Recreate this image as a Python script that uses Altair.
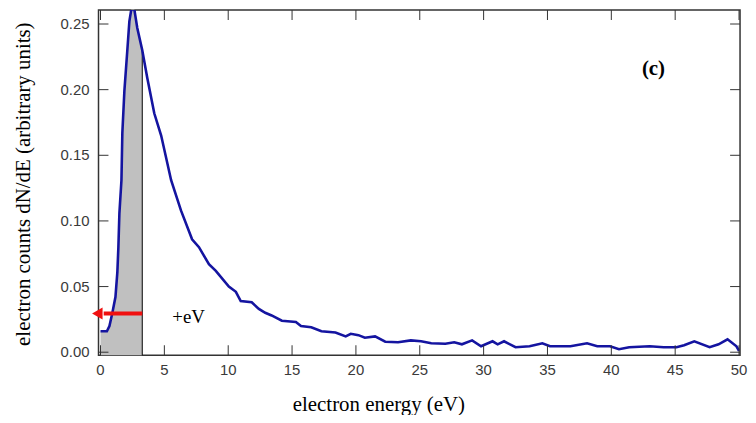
import altair as alt
import pandas as pd

# ---- data ----
energy = [0.0, 0.5, 0.7, 0.93, 1.17, 1.32, 1.40, 1.48, 1.64, 1.71, 1.87, 2.10, 2.26, 2.41,
          2.65, 2.88, 3.27, 3.66, 4.21, 4.75, 5.53, 6.3, 7.17, 7.71, 8.49, 9.03, 10.05,
          10.6, 10.98, 11.84, 12.4, 12.9, 13.4, 14.2, 15.3, 15.7, 16.5, 17.3, 18.4, 19.2,
          19.6, 20.2, 20.7, 21.5, 22.3, 23.3, 24.3, 25.1, 25.9, 27.0, 27.7, 28.3, 29.1,
          29.8, 30.7, 31.1, 31.6, 32.5, 33.6, 34.6, 35.2, 36.8, 38.1, 38.9, 39.9, 40.6,
          41.4, 43.0, 44.1, 45.1, 45.7, 46.5, 47.7, 48.4, 49.1, 49.8, 50.0]
counts = [0.016, 0.016, 0.020, 0.030, 0.042, 0.061, 0.080, 0.106, 0.131, 0.167, 0.199,
          0.230, 0.252, 0.261, 0.261, 0.247, 0.230, 0.209, 0.182, 0.165, 0.131, 0.108,
          0.086, 0.080, 0.067, 0.062, 0.050, 0.046, 0.039, 0.038, 0.033, 0.030, 0.028,
          0.024, 0.023, 0.020, 0.019, 0.016, 0.015, 0.012, 0.014, 0.013, 0.011, 0.012,
          0.008, 0.0076, 0.009, 0.0083, 0.0068, 0.0065, 0.0076, 0.006, 0.009, 0.0045,
          0.0083, 0.006, 0.0083, 0.0038, 0.0045, 0.0068, 0.0045, 0.0045, 0.0068, 0.0045,
          0.0045, 0.0023, 0.0038, 0.0045, 0.0038, 0.0038, 0.0053, 0.0083, 0.0038, 0.006,
          0.0098, 0.0045, 0.001]

cutoff_energy = [3.27]          # vertical line / shaded region edge
cutoff_count = [0.230]
arrow_energy = [3.27, 0.25]     # red arrow shaft
arrow_head_energy = [-0.25]
arrow_count = [0.0295]
x_ticks = [0, 5, 10, 15, 20, 25, 30, 35, 40, 45, 50]
y_ticks = [0.00, 0.05, 0.10, 0.15, 0.20, 0.25]
ev_label = ["+eV"]
ev_x = [6.9]
ev_y = [0.022]
panel_label = ["(c)"]
panel_x = [43.3]
panel_y = [0.211]
x_title = ["electron energy (eV)"]
y_title = ["electron counts dN/dE (arbitrary units)"]

X_DOM = [-0.156, 50.08]
Y_DOM = [-0.0023, 0.2606]

df = pd.DataFrame({"energy": energy, "counts": counts})
df_cut = pd.DataFrame({"energy": cutoff_energy, "counts": cutoff_count})
df_arrow = pd.DataFrame({"energy": arrow_energy, "counts": arrow_count * 2})
df_head = pd.DataFrame({"energy": arrow_head_energy, "counts": arrow_count})
df_ev = pd.DataFrame({"label": ev_label, "energy": ev_x, "counts": ev_y})
df_panel = pd.DataFrame({"label": panel_label, "energy": panel_x, "counts": panel_y})
df_xt = pd.DataFrame({"energy": x_ticks})
df_yt = pd.DataFrame({"counts": y_ticks})
df_xtitle = pd.DataFrame({"label": x_title})
df_ytitle = pd.DataFrame({"label": y_title})

xs = alt.Scale(domain=X_DOM, nice=False, zero=False)
ys = alt.Scale(domain=Y_DOM, nice=False, zero=False)

FONT_T = "Liberation Serif"
FONT_L = "Liberation Sans"


def X(field="energy:Q"):
    return alt.X(field, scale=xs, axis=None)


def Y(field="counts:Q"):
    return alt.Y(field, scale=ys, axis=None)


def XD(v):
    return alt.X(datum=v, scale=xs, axis=None)


def YD(v):
    return alt.Y(datum=v, scale=ys, axis=None)


area = alt.Chart(df).transform_filter(alt.datum.energy <= 3.27).mark_area(
    color="#c0c0c0", opacity=1
).encode(x=X(), y=Y(), y2=alt.Y2(datum=Y_DOM[0]))

vline = alt.Chart(df_cut).mark_rule(color="#000", strokeWidth=1).encode(
    x=X(), y=Y(), y2=alt.Y2(datum=Y_DOM[0]))

line = alt.Chart(df).mark_line(color="#1414a0", strokeWidth=2.6, clip=True).encode(
    x=X(), y=Y())

shaft = alt.Chart(df_arrow).mark_line(color="#f01010", strokeWidth=4).encode(x=X(), y=Y())

head = alt.Chart(df_head).mark_point(shape="triangle-left", filled=True, size=150,
                                     color="#f01010", opacity=1).encode(x=X(), y=Y())

txt_ev = alt.Chart(df_ev).mark_text(font=FONT_T, fontSize=19, align="center",
                                    baseline="alphabetic", color="#000").encode(
    x=X(), y=Y(), text="label:N")

txt_panel = alt.Chart(df_panel).mark_text(font=FONT_T, fontSize=21, fontWeight="bold",
                                          align="center", baseline="alphabetic",
                                          color="#000").encode(x=X(), y=Y(), text="label:N")

# inward ticks on all four sides
TICK = dict(color="#333", thickness=1, size=10, opacity=1)
ticks_bottom = alt.Chart(df_xt).mark_tick(orient="vertical", yOffset=-5, **TICK).encode(
    x=X(), y=YD(Y_DOM[0]))
ticks_top = alt.Chart(df_xt).mark_tick(orient="vertical", yOffset=5, **TICK).encode(
    x=X(), y=YD(Y_DOM[1]))
ticks_left = alt.Chart(df_yt).mark_tick(orient="horizontal", xOffset=5, **TICK).encode(
    y=Y(), x=XD(X_DOM[0]))
ticks_right = alt.Chart(df_yt).mark_tick(orient="horizontal", xOffset=-5, **TICK).encode(
    y=Y(), x=XD(X_DOM[1]))

# tick labels
xlabels = alt.Chart(df_xt).mark_text(font=FONT_L, fontSize=15, color="#3a3a3a",
                                     align="center", baseline="top", dy=8).encode(
    x=X(), y=YD(Y_DOM[0]), text=alt.Text("energy:Q", format="d"))
ylabels = alt.Chart(df_yt).mark_text(font=FONT_L, fontSize=15, color="#3a3a3a",
                                     align="right", baseline="middle", dx=-9).encode(
    y=Y(), x=XD(X_DOM[0]), text=alt.Text("counts:Q", format=".2f"))

# axis titles
xtitle = alt.Chart(df_xtitle).mark_text(font=FONT_T, fontSize=21, color="#000",
                                        align="center", baseline="alphabetic").encode(
    x=XD(21.8), y=YD(-0.0447), text="label:N")
ytitle = alt.Chart(df_ytitle).mark_text(font=FONT_T, fontSize=21, color="#000",
                                        align="center", baseline="middle", angle=270).encode(
    x=XD(-6.0), y=YD(0.128), text="label:N")

chart = alt.layer(area, vline, line, shaft, head, txt_ev, txt_panel,
                  ticks_bottom, ticks_top, ticks_left, ticks_right,
                  xlabels, ylabels, xtitle, ytitle).properties(
    width=645, height=347,
    background="white",
    autosize=alt.AutoSizeParams(type="none"),
    padding={"left": 91, "top": 1, "right": 8, "bottom": 59},
).configure_view(stroke="#333", strokeWidth=1.5)

chart.save("out.html", embed_options={"renderer": "svg", "actions": False})
